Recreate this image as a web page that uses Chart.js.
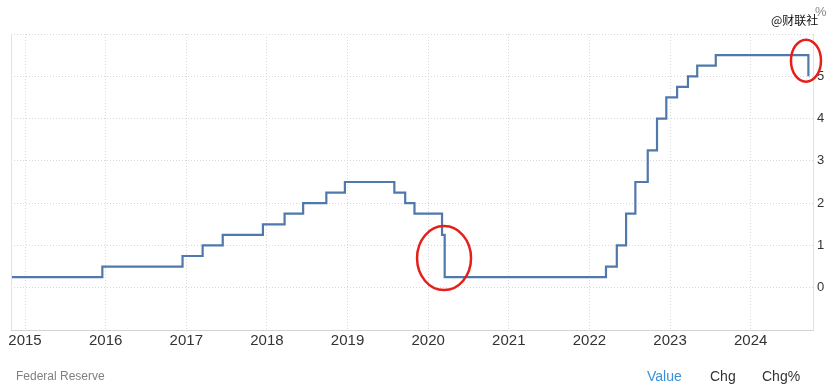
<!DOCTYPE html>
<html lang="en">
<head>
    <meta charset="UTF-8">
    <title>Federal Reserve Rate</title>
    <script src="https://cdn.jsdelivr.net/npm/chart.js"></script>
    <style>
        html, body { margin: 0; padding: 0; background: #fff; }
        #wrap { position: relative; width: 837px; height: 389px; }
    </style>
</head>
<body>
    <div id="wrap">
        <canvas id="rateChart" width="837" height="389"></canvas>
    </div>

    <script>
        // rate decisions (upper bound of target range, %)
        const changeDates = [
            '2014-11-01', '2015-12-17', '2016-12-15', '2017-03-16', '2017-06-15', '2017-12-14',
            '2018-03-22', '2018-06-14', '2018-09-27', '2018-12-20', '2019-08-01', '2019-09-19',
            '2019-10-31', '2020-03-04', '2020-03-16', '2022-03-17', '2022-05-05', '2022-06-16',
            '2022-07-28', '2022-09-22', '2022-11-03', '2022-12-15', '2023-02-02', '2023-03-23',
            '2023-05-04', '2023-07-27', '2024-09-19'
        ];
        const rateValues = [
            0.25, 0.5, 0.75, 1.0, 1.25, 1.5,
            1.75, 2.0, 2.25, 2.5, 2.25, 2.0,
            1.75, 1.25, 0.25, 0.5, 1.0, 1.75,
            2.5, 3.25, 4.0, 4.5, 4.75, 5.0,
            5.25, 5.5, 5.0
        ];
        const yearTicks = [2015, 2016, 2017, 2018, 2019, 2020, 2021, 2022, 2023, 2024];
        const rateTicks = [0, 1, 2, 3, 4, 5];

        // decimal year from 'YYYY-MM-DD'
        function toYear(s) {
            const d = new Date(s + 'T00:00:00Z');
            const y = d.getUTCFullYear();
            const start = Date.UTC(y, 0, 1), end = Date.UTC(y + 1, 0, 1);
            return y + (d.getTime() - start) / (end - start);
        }

        const points = changeDates.map((d, i) => ({ x: toYear(d), y: rateValues[i] }));

        // red circles marking the cuts (data coords, radius in px)
        const marks = [
            { x: 2020.197, y: 0.70, rx: 27, ry: 32 },
            { x: 2024.686, y: 5.37, rx: 15, ry: 21 }
        ];

        const extras = {
            id: 'extras',
            afterDraw(chart) {
                const ctx = chart.ctx;
                const xs = chart.scales.x, ys = chart.scales.y;
                const area = chart.chartArea;
                ctx.save();
                // left border
                ctx.strokeStyle = '#e2e2e2';
                ctx.lineWidth = 1;
                ctx.beginPath();
                ctx.moveTo(area.left + 0.5, area.top);
                ctx.lineTo(area.left + 0.5, area.bottom);
                ctx.stroke();

                // cut markers
                ctx.strokeStyle = '#e5201b';
                ctx.lineWidth = 2.5;
                marks.forEach(m => {
                    ctx.beginPath();
                    ctx.ellipse(xs.getPixelForValue(m.x), ys.getPixelForValue(m.y), m.rx, m.ry, 0, 0, Math.PI * 2);
                    ctx.stroke();
                });

                // texts
                ctx.textBaseline = 'middle';
                ctx.textAlign = 'left';
                ctx.fillStyle = '#111';
                ctx.font = '12px "Noto Sans CJK SC", sans-serif';
                ctx.fillText('@财联社', 771, 20);
                ctx.fillStyle = '#888';
                ctx.font = '13px "Liberation Sans", Arial, sans-serif';
                ctx.fillText('%', 815, 12);

                ctx.fillStyle = '#808080';
                ctx.font = '12px "Liberation Sans", Arial, sans-serif';
                ctx.fillText('Federal Reserve', 16, 377);

                ctx.font = '14px "Liberation Sans", Arial, sans-serif';
                ctx.fillStyle = '#3b8fd9';
                ctx.fillText('Value', 647, 377);
                ctx.fillStyle = '#333';
                ctx.fillText('Chg', 710, 377);
                ctx.fillText('Chg%', 762, 377);
                ctx.restore();
            }
        };

        new Chart(document.getElementById('rateChart'), {
            type: 'line',
            data: {
                datasets: [{
                    label: 'Federal Reserve',
                    data: points,
                    stepped: 'before',
                    borderColor: '#4f78ab',
                    borderWidth: 2.2,
                    pointRadius: 0,
                    fill: false
                }]
            },
            options: {
                responsive: false,
                animation: false,
                layout: { padding: { left: 11, top: 34, right: 0, bottom: 0 } },
                plugins: {
                    legend: { display: false },
                    tooltip: { enabled: false }
                },
                scales: {
                    x: {
                        type: 'linear',
                        min: 2014.826,
                        max: 2024.773,
                        afterBuildTicks: s => { s.ticks = yearTicks.map(v => ({ value: v })); },
                        afterFit: s => { s.height = 59; },
                        grid: { color: '#d8d8d8', drawTicks: false },
                        border: { display: true, color: '#d4d4d4', dash: [1, 2] },
                        ticks: {
                            padding: 2,
                            maxRotation: 0,
                            autoSkip: false,
                            color: '#333',
                            font: { family: '"Liberation Sans", Arial, sans-serif', size: 15 },
                            callback: v => String(v)
                        }
                    },
                    y: {
                        position: 'right',
                        min: -1,
                        max: 6,
                        afterBuildTicks: s => { s.ticks = [-1].concat(rateTicks, [6]).map(v => ({ value: v })); },
                        afterFit: s => { s.width = 24; },
                        grid: { color: '#d8d8d8', drawTicks: false },
                        border: { display: true, color: '#e2e2e2', dash: [1, 2] },
                        ticks: {
                            padding: 4,
                            color: '#333',
                            font: { family: '"Liberation Sans", Arial, sans-serif', size: 13 },
                            callback: v => rateTicks.includes(v) ? String(v) : ''
                        }
                    }
                }
            },
            plugins: [extras]
        });
    </script>
</body>
</html>
